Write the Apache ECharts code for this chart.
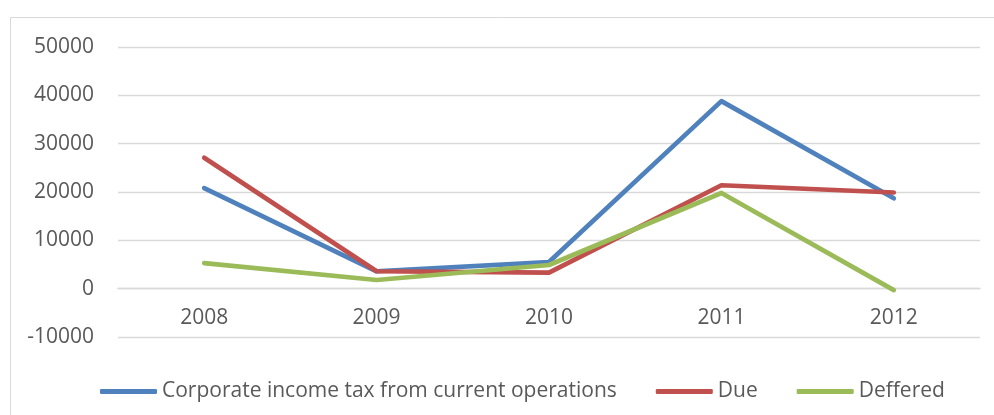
<!DOCTYPE html>
<html>
<head>
<meta charset="utf-8">
<script src="https://cdn.jsdelivr.net/npm/echarts@6/dist/echarts.min.js"></script>
<style>
html,body{margin:0;padding:0;background:#fff;}
#chart{width:994px;height:415px;}
</style>
</head>
<body>
<div id="chart"></div>
<script>
var categories = ['2008', '2009', '2010', '2011', '2012'];
var corporateTax = [20800, 3600, 5500, 38800, 18700];
var due = [27100, 3600, 3300, 21400, 19900];
var deffered = [5300, 1800, 4900, 19800, -300];
var seriesNames = ['Corporate income tax from current operations', 'Due', 'Deffered'];

var chart = echarts.init(document.getElementById('chart'));
var txt = '#595959';
var font = 'Open Sans';
function lineSeries(name, data, color) {
  return {
    name: name, type: 'line', data: data, symbol: 'none',
    lineStyle: { color: color, width: 4.7, cap: 'round', join: 'round' },
    itemStyle: { color: color }
  };
}
chart.setOption({
  animation: false,
  graphic: [{
    type: 'rect', silent: true,
    shape: { x: 10.5, y: 17.5, width: 1000, height: 420 },
    style: { fill: 'none', stroke: '#d9d9d9', lineWidth: 1 }
  }],
  grid: { left: 118, right: 14, top: 47, bottom: 78, containLabel: false },
  legend: {
    left: 95, top: 376,
    itemWidth: 57, itemHeight: 5, itemGap: 39,
    icon: 'roundRect',
    textStyle: { color: txt, fontFamily: font, fontSize: 21 },
    data: seriesNames
  },
  xAxis: {
    type: 'category', data: categories, boundaryGap: true,
    offset: -48.3,
    axisLine: { show: true, onZero: false, lineStyle: { color: '#d9d9d9', width: 1.3 } },
    axisTick: { show: false },
    axisLabel: { color: txt, fontFamily: font, fontSize: 21, margin: 19 }
  },
  yAxis: {
    type: 'value', min: -10000, max: 50000, interval: 10000,
    axisLine: { show: false }, axisTick: { show: false },
    splitLine: { lineStyle: { color: '#d9d9d9', width: 1.3 } },
    axisLabel: {
      color: txt, fontFamily: font, fontSize: 21, margin: 24,
      formatter: function (v) { return String(v); }
    }
  },
  series: [
    lineSeries(seriesNames[0], corporateTax, '#4f81bd'),
    lineSeries(seriesNames[1], due, '#c0504d'),
    lineSeries(seriesNames[2], deffered, '#9bbb59')
  ]
});
</script>
</body>
</html>
